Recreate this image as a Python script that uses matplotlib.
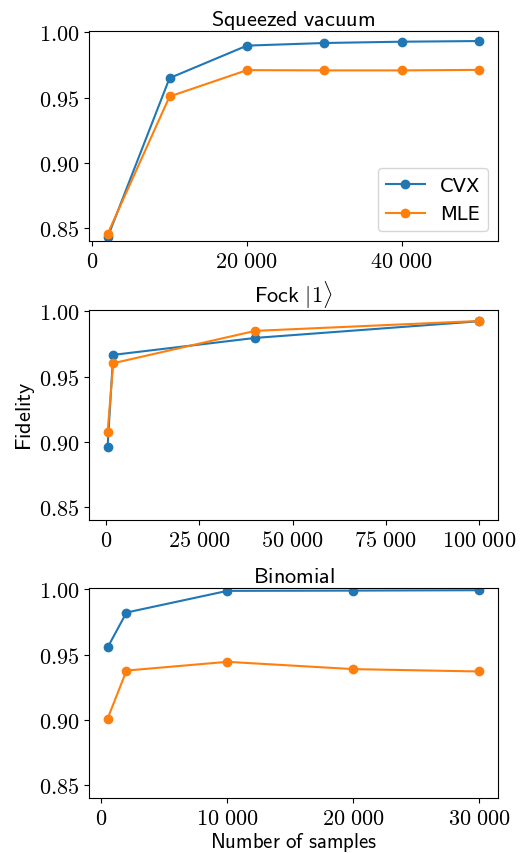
import matplotlib
matplotlib.use("Agg")
import matplotlib.pyplot as plt
from matplotlib.ticker import FuncFormatter, MultipleLocator

plt.rcParams['mathtext.fontset'] = 'cm'
plt.rcParams['axes.unicode_minus'] = False

# Squeezed vacuum
sq_x = [2000, 10000, 20000, 30000, 40000, 50000]
sq_cvx = [0.8428, 0.9649, 0.9898, 0.9918, 0.9928, 0.9933]
sq_mle = [0.8454, 0.9508, 0.9710, 0.9708, 0.9708, 0.9712]

# Fock |1>
fock_x = [500, 2000, 40000, 100000]
fock_cvx = [0.8962, 0.9666, 0.9796, 0.9924]
fock_mle = [0.9072, 0.9602, 0.9850, 0.9926]

# Binomial
bin_x = [500, 2000, 10000, 20000, 30000]
bin_cvx = [0.9554, 0.9822, 0.9988, 0.9990, 0.9993]
bin_mle = [0.9008, 0.9377, 0.9444, 0.9388, 0.9370]

titles = [r"$\mathsf{Squeezed\ vacuum}$", r"$\mathsf{Fock}\ |1\rangle$", r"$\mathsf{Binomial}$"]
xtick_steps = [20000, 25000, 10000]
series_labels = ["CVX", "MLE"]

W, H = 532, 854
fig = plt.figure(figsize=(W/100, H/100), dpi=100)

boxes = [(32, 242), (311, 521), (589, 799)]
left, right = 89, 498

def xfmt(v, pos):
    iv = int(round(v))
    s = f"{iv:,}".replace(",", r"\ ")
    return f"${s}$"

def yfmt(v, pos):
    return f"${v:.2f}$"

data = [(sq_x, sq_cvx, sq_mle), (fock_x, fock_cvx, fock_mle), (bin_x, bin_cvx, bin_mle)]
axes = []
for i, ((top, bot), (x, c, m)) in enumerate(zip(boxes, data)):
    ax = fig.add_axes([left/W, 1-bot/H, (right-left)/W, (bot-top)/H])
    ax.plot(x, c, marker='o', color='#1f77b4', label=series_labels[0], lw=1.5, ms=6)
    ax.plot(x, m, marker='o', color='#ff7f0e', label=series_labels[1], lw=1.5, ms=6)
    ax.set_ylim(0.84, 1.001)
    ax.yaxis.set_major_locator(MultipleLocator(0.05))
    ax.yaxis.set_major_formatter(FuncFormatter(yfmt))
    ax.xaxis.set_major_locator(MultipleLocator(xtick_steps[i]))
    ax.xaxis.set_major_formatter(FuncFormatter(xfmt))
    ax.tick_params(labelsize=16)
    ax.set_title(titles[i], fontsize=16, pad=4)
    axes.append(ax)

axes[0].legend(loc='lower right', fontsize=14)
axes[1].set_ylabel(r"$\mathsf{Fidelity}$", fontsize=16, labelpad=1)
axes[2].set_xlabel(r"$\mathsf{Number\ of\ samples}$", fontsize=15, labelpad=2)

fig.savefig("out.png", dpi=100)
